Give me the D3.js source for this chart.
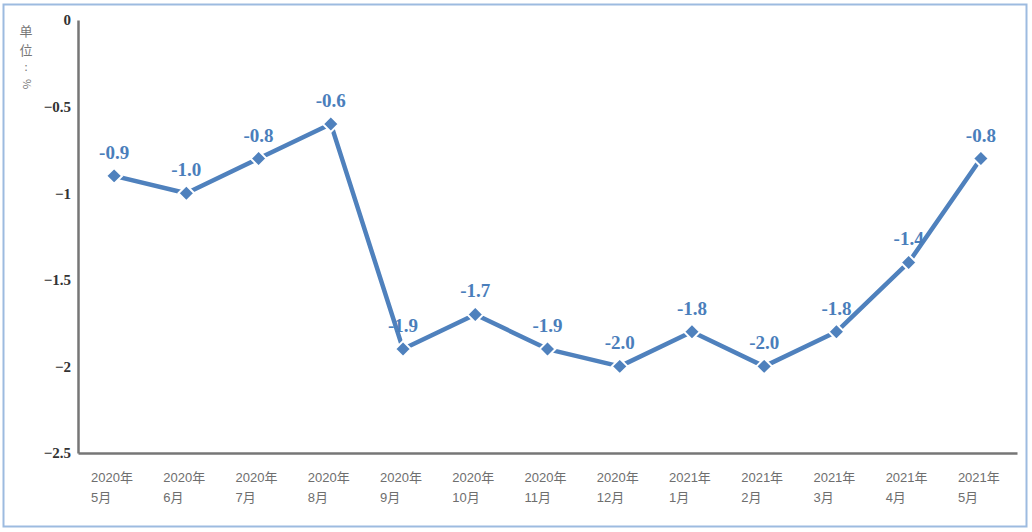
<!DOCTYPE html>
<html>
<head>
<meta charset="utf-8">
<script src="https://cdn.jsdelivr.net/npm/d3@7"></script>
<style>
  body { margin: 0; background: #fff; }
</style>
</head>
<body>
<svg id="chart"></svg>
<script>
const years = ["2020年", "2020年", "2020年", "2020年", "2020年", "2020年", "2020年", "2020年", "2021年", "2021年", "2021年", "2021年", "2021年"];
const months = ["5月", "6月", "7月", "8月", "9月", "10月", "11月", "12月", "1月", "2月", "3月", "4月", "5月"];
const values = [-0.9, -1.0, -0.8, -0.6, -1.9, -1.7, -1.9, -2.0, -1.8, -2.0, -1.8, -1.4, -0.8];
const yTicks = [0, -0.5, -1, -1.5, -2, -2.5];

const W = 1032, H = 532;
const margin = { top: 20, right: 15, bottom: 79, left: 78 },
  width = W - margin.left - margin.right,
  height = H - margin.top - margin.bottom;

const lineColor = "#4f81bd";

const svg = d3.select("#chart").attr("width", W).attr("height", H);

// outer frame
svg.append("rect")
  .attr("x", 3.5).attr("y", 4.5)
  .attr("width", 1023).attr("height", 522)
  .attr("fill", "none")
  .attr("stroke", "#9dbbe0")
  .attr("stroke-width", 2);

const g = svg.append("g").attr("transform", `translate(${margin.left},${margin.top})`);

const keys = values.map((d, i) => i);
const xScale = d3.scaleBand().domain(keys).range([0, width]);
const yScale = d3.scaleLinear().domain([-2.5, 0]).range([height, 0]);

// y axis
const yAxis = g.append("g")
  .call(d3.axisLeft(yScale).tickValues(yTicks).tickSize(0).tickPadding(7).tickFormat(d3.format("")));
yAxis.select(".domain").attr("stroke", "#767676").attr("stroke-width", 2.5);
yAxis.selectAll("text")
  .attr("font-family", "Liberation Serif, serif")
  .attr("font-weight", "bold")
  .attr("font-size", 15)
  .attr("fill", "#333");

// x axis
const xAxis = g.append("g")
  .attr("transform", `translate(0,${height})`)
  .call(d3.axisBottom(xScale).tickSize(0).tickFormat(""));
xAxis.select(".domain").attr("stroke", "#767676").attr("stroke-width", 2.5);

const xLabels = g.append("g")
  .attr("font-family", "Liberation Sans, Noto Sans CJK SC, sans-serif")
  .attr("font-size", 13)
  .attr("fill", "#6e6e6e");
keys.forEach((k) => {
  const x0 = xScale(k) + xScale.bandwidth() / 2 - 23;
  xLabels.append("text").attr("x", x0).attr("y", height + 29).text(years[k]);
  xLabels.append("text").attr("x", x0).attr("y", height + 49).text(months[k]);
});

// unit label, written top to bottom
const unit = svg.append("g")
  .attr("font-family", "Noto Sans CJK SC, sans-serif")
  .attr("font-size", 13)
  .attr("fill", "#777")
  .attr("text-anchor", "middle");
unit.append("text").attr("x", 26).attr("y", 36).text("单");
unit.append("text").attr("x", 26).attr("y", 55).text("位");
unit.append("text").attr("x", 26).attr("y", 71).attr("font-size", 11).text(":");
unit.append("text")
  .attr("x", 26).attr("y", 84)
  .attr("font-size", 11)
  .attr("dominant-baseline", "middle")
  .attr("transform", "rotate(90,26,84)")
  .text("%");

const cx = (d, i) => xScale(i) + xScale.bandwidth() / 2;

// line
g.append("path")
  .datum(values)
  .attr("fill", "none")
  .attr("stroke", lineColor)
  .attr("stroke-width", 4.5)
  .attr("stroke-linejoin", "round")
  .attr("d", d3.line().x(cx).y((d) => yScale(d)));

// markers
g.selectAll(".marker")
  .data(values)
  .join("path")
  .attr("class", "marker")
  .attr("d", d3.symbol().type(d3.symbolDiamond2).size(160))
  .attr("transform", (d, i) => `translate(${cx(d, i)},${yScale(d)})`)
  .attr("fill", lineColor)
  .attr("stroke", "#fff")
  .attr("stroke-width", 2);

// data labels
g.selectAll(".lbl")
  .data(values)
  .join("text")
  .attr("class", "lbl")
  .attr("x", cx)
  .attr("y", (d) => yScale(d) - 17)
  .attr("text-anchor", "middle")
  .attr("font-family", "Liberation Serif, serif")
  .attr("font-weight", "bold")
  .attr("font-size", 19)
  .attr("fill", "#4a7ebb")
  .text((d) => d.toFixed(1));
</script>
</body>
</html>
